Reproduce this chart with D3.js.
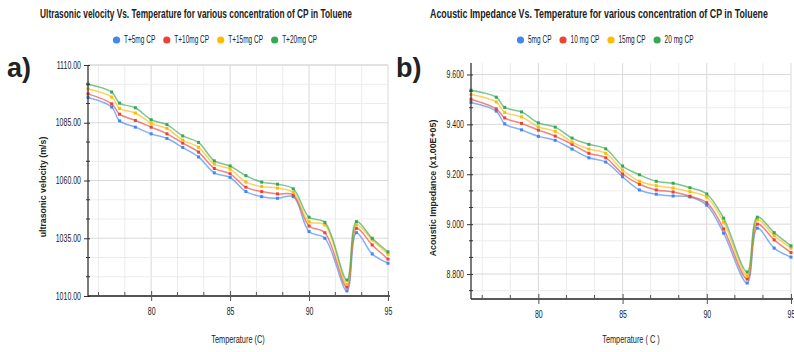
<!DOCTYPE html>
<html lang="en">
<head>
<meta charset="UTF-8">
<title>Ultrasonic velocity and acoustic impedance vs temperature</title>
<script src="https://cdn.jsdelivr.net/npm/d3@7"></script>
<style>
  body { margin: 0; background: #fff; }
  text { fill: #222; font-family: "Liberation Sans", Arial, sans-serif; }
</style>
</head>
<body>
<svg id="chart" width="794" height="352"></svg>
<script>
    // Temperatures (C) - shared by both panels
    const temps = [76, 77.5, 78, 79, 80, 81, 82, 83, 84, 85, 86, 87, 88, 89, 90, 91, 92.4, 93, 94, 95];

    // a) ultrasonic velocity (m/s)
    const vel5  = [1095.9, 1091.8, 1085.8, 1083.1, 1080.2, 1078.2, 1074.3, 1070.2, 1063.3, 1061.3, 1055.2, 1053.0, 1052.3, 1053.0, 1037.9, 1035.0, 1012.2, 1037.4, 1028.2, 1024.2];
    const vel10 = [1097.5, 1093.2, 1088.7, 1086.0, 1083.1, 1080.2, 1076.2, 1072.3, 1065.2, 1062.9, 1057.1, 1055.2, 1054.2, 1053.8, 1040.3, 1037.4, 1013.8, 1039.3, 1032.1, 1026.0];
    const vel15 = [1099.6, 1096.1, 1091.2, 1089.2, 1084.8, 1082.5, 1077.5, 1074.4, 1067.1, 1064.9, 1059.3, 1057.4, 1056.7, 1054.8, 1042.2, 1040.8, 1015.1, 1040.8, 1034.3, 1028.1];
    const vel20 = [1101.7, 1098.3, 1093.5, 1091.5, 1086.3, 1084.2, 1079.3, 1076.5, 1068.5, 1066.3, 1062.1, 1059.3, 1058.4, 1056.4, 1044.1, 1041.9, 1016.9, 1042.2, 1035.0, 1029.1];

    // b) acoustic impedance (x1.00E+05)
    const imp5  = [9.488, 9.453, 9.402, 9.378, 9.352, 9.336, 9.301, 9.266, 9.249, 9.190, 9.137, 9.120, 9.113, 9.109, 9.076, 8.964, 8.764, 8.984, 8.904, 8.868];
    const imp10 = [9.501, 9.462, 9.426, 9.404, 9.377, 9.353, 9.320, 9.284, 9.266, 9.201, 9.160, 9.137, 9.129, 9.112, 9.086, 8.981, 8.780, 9.000, 8.937, 8.886];
    const imp15 = [9.520, 9.490, 9.448, 9.430, 9.390, 9.372, 9.329, 9.301, 9.284, 9.217, 9.172, 9.154, 9.145, 9.130, 9.108, 9.008, 8.793, 9.017, 8.954, 8.904];
    const imp20 = [9.537, 9.509, 9.468, 9.450, 9.406, 9.389, 9.345, 9.320, 9.302, 9.233, 9.198, 9.172, 9.164, 9.146, 9.121, 9.024, 8.808, 9.028, 8.966, 8.913];

    const namesA = ["T+5mg CP", "T+10mg CP", "T+15mg CP", "T+20mg CP"];
    const namesB = ["5mg CP", "10 mg CP", "15mg CP", "20 mg CP"];
    const colors = ["#4285F4", "#EA4335", "#FBBC04", "#34A853"];

    const velTicks = [1010, 1035, 1060, 1085, 1110];
    const impTicks = [8.8, 9.0, 9.2, 9.4, 9.6];
    const tempTicks = [80, 85, 90, 95];

    const NARROW = 0.7;   // horizontal squeeze to imitate the narrow chart font
    const LEG_NARROW = 0.62;

    const svg = d3.select("#chart");

    // squeeze text horizontally, keeping its anchor point in place
    function condense(sel, k) {
        sel.each(function () {
            const t = d3.select(this);
            const x = +(t.attr("x") || 0);
            t.attr("x", x / k).attr("transform", `scale(${k},1)`);
        });
    }

    function drawPanel(p) {
        const x = d3.scaleLinear().domain([76, 95]).range([p.left, p.right]);
        const y = d3.scaleLinear().domain(p.yDomain).range([p.bottom, p.top]);
        const g = svg.append("g");

        // minor positions: thirds of the major step
        const xMinor = d3.range(95, 76, -5 / 3).map(v => +v.toFixed(4));
        const ySteps = Math.round((p.yDomain[1] - p.yMajor[0]) / (p.yStep / 3));
        const yMinor = d3.range(-3, ySteps + 1).map(i => p.yMajor[0] + i * p.yStep / 3)
            .filter(v => v >= p.yDomain[0] - 1e-9 && v <= p.yDomain[1] + 1e-9);
        const isMajorX = v => tempTicks.includes(Math.round(v * 1000) / 1000);
        const isMajorY = v => p.yMajor.some(t => Math.abs(t - v) < 1e-6);

        // gridlines
        g.append("g").selectAll("line").data(xMinor).join("line")
            .attr("x1", d => x(d)).attr("x2", d => x(d))
            .attr("y1", p.top).attr("y2", p.bottom)
            .attr("stroke", d => isMajorX(d) ? "#d9d9d9" : "#ececec");
        g.append("g").selectAll("line").data(yMinor).join("line")
            .attr("x1", p.left).attr("x2", p.right)
            .attr("y1", d => y(d)).attr("y2", d => y(d))
            .attr("stroke", d => isMajorY(d) ? "#d9d9d9" : "#ececec");
        if (p.topLine) {
            g.append("line").attr("x1", p.left).attr("x2", p.right)
                .attr("y1", p.top).attr("y2", p.top).attr("stroke", "#d9d9d9");
        }

        // series
        const line = d3.line()
            .x((d, i) => x(temps[i]))
            .y(d => y(d))
            .curve(d3.curveCatmullRom.alpha(0.5));
        p.series.forEach((s, k) => {
            g.append("path").datum(s)
                .attr("fill", "none")
                .attr("stroke", colors[k])
                .attr("stroke-opacity", 0.65)
                .attr("stroke-width", 1.5)
                .attr("d", line);
            g.append("g").selectAll("rect").data(s).join("rect")
                .attr("x", (d, i) => x(temps[i]) - 1.5)
                .attr("y", d => y(d) - 1.5)
                .attr("width", 3).attr("height", 3)
                .attr("fill", colors[k]);
        });

        // y axis
        const yAxis = g.append("g")
            .attr("transform", `translate(${p.left},0)`)
            .call(d3.axisLeft(y).tickValues(p.yMajor).tickFormat(p.yFormat).tickSize(4).tickPadding(3));
        yAxis.select(".domain").attr("stroke", "#333").attr("stroke-width", 1.3)
            .attr("d", `M0,${p.bottom}V${p.top}`);
        yAxis.selectAll(".tick line").attr("x1", 2).attr("stroke", "#333");
        yAxis.selectAll(".tick text").attr("font-size", 10).attr("fill", "#333")
            .attr("font-family", null).call(condense, NARROW);
        yAxis.append("g").selectAll("line")
            .data(yMinor.filter(v => !isMajorY(v)))
            .join("line")
            .attr("x1", -2).attr("x2", 2)
            .attr("y1", d => y(d)).attr("y2", d => y(d))
            .attr("stroke", "#333");

        // x axis
        const xAxis = g.append("g")
            .attr("transform", `translate(0,${p.bottom})`)
            .call(d3.axisBottom(x).tickValues(tempTicks).tickFormat(d3.format("d")).tickSize(5).tickPadding(7));
        xAxis.select(".domain").attr("stroke", "#222").attr("stroke-width", 1.6)
            .attr("d", `M${p.left},0H${p.right + 2}`);
        xAxis.selectAll(".tick line").attr("y1", -5).attr("stroke", "#555");
        xAxis.selectAll(".tick text").attr("font-size", 10).attr("fill", "#333")
            .attr("font-family", null).call(condense, NARROW);
        xAxis.append("g").selectAll("line")
            .data(xMinor.filter(v => !isMajorX(v)))
            .join("line")
            .attr("x1", d => x(d)).attr("x2", d => x(d))
            .attr("y1", -4).attr("y2", 1)
            .attr("stroke", "#555");

        // titles
        const cx = (p.left + p.right) / 2;
        const title = svg.append("text")
            .attr("x", p.titleX).attr("y", 18)
            .attr("text-anchor", "middle")
            .attr("font-size", 12.5).attr("font-weight", "bold")
            .text(p.title);
        title.call(condense, p.titleWidth / title.node().getComputedTextLength());
        svg.append("text")
            .attr("x", cx).attr("y", 343)
            .attr("text-anchor", "middle").attr("font-size", 10.5)
            .text(p.xTitle)
            .call(condense, NARROW);
        svg.append("text")
            .attr("transform", `translate(${p.yTitleX},${p.yTitleY}) rotate(-90)`)
            .attr("text-anchor", "middle").attr("font-size", 8.8).attr("font-weight", "bold")
            .text(p.yTitle);
        svg.append("text")
            .attr("x", p.tagX).attr("y", 77)
            .attr("font-size", 27).attr("font-weight", "bold").attr("fill", "#000")
            .text(p.tag);

        // legend
        const leg = svg.append("g");
        let lx = 0;
        p.names.forEach((n, k) => {
            leg.append("circle").attr("cx", lx + 3.5).attr("cy", 40).attr("r", 3.6).attr("fill", colors[k]);
            const t = leg.append("text")
                .attr("x", lx + 11).attr("y", 43.5).attr("font-size", 10.5).attr("fill", "#444")
                .text(n);
            const w = t.node().getComputedTextLength() * LEG_NARROW;
            t.call(condense, LEG_NARROW);
            lx += 11 + w + 8;
        });
        leg.attr("transform", `translate(${p.legendX},0)`);
    }

    drawPanel({
        left: 88, right: 388, top: 65, bottom: 296,
        yDomain: [1010, 1110], yMajor: velTicks, yStep: 25, yFormat: d3.format(".2f"),
        series: [vel5, vel10, vel15, vel20], names: namesA,
        title: "Ultrasonic velocity Vs. Temperature for various concentration of CP in Toluene",
        titleX: 196, titleWidth: 312,
        xTitle: "Temperature (C)",
        yTitle: "ultrasonic velocity (m/s)", yTitleX: 46, yTitleY: 187,
        tag: "a)", tagX: 7, legendX: 113, topLine: true
    });

    drawPanel({
        left: 471, right: 791, top: 63, bottom: 299,
        yDomain: [8.7, 9.646], yMajor: impTicks, yStep: 0.2, yFormat: d3.format(".3f"),
        series: [imp5, imp10, imp15, imp20], names: namesB,
        title: "Acoustic Impedance Vs. Temperature for various concentration of CP in Toluene",
        titleX: 599, titleWidth: 338,
        xTitle: "Temperature ( C )",
        yTitle: "Acoustic Impedance (x1.00E+05)", yTitleX: 436, yTitleY: 188,
        tag: "b)", tagX: 396, legendX: 517, topLine: false
    });
</script>
</body>
</html>
